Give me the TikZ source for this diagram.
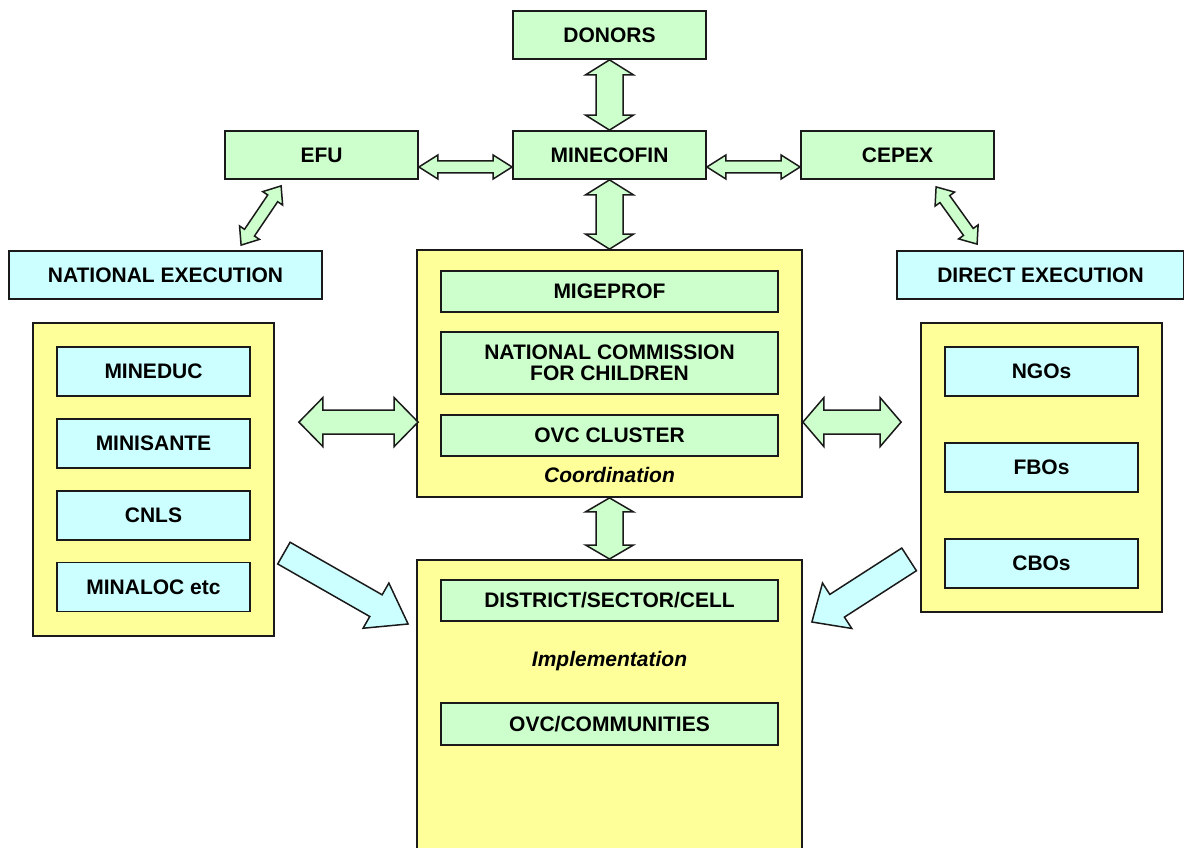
\documentclass[tikz,border=0pt]{standalone}
\usepackage{fontspec}
\setmainfont{Liberation Sans}
\usetikzlibrary{calc}
\definecolor{gfill}{HTML}{CCFFCC}
\definecolor{cfill}{HTML}{CCFFFF}
\definecolor{yfill}{HTML}{FFFF99}
\definecolor{edge}{HTML}{1A1A1A}
% double arrow: [fill]{A}{B}{head length}{head half}{shaft half}
\newcommand\dblarrow[6][gfill]{%
  \filldraw[arrline, fill=#1] (#2)
   -- ($(#2)!#4!(#3)!#5!90:(#3)$) -- ($(#2)!#4!(#3)!#6!90:(#3)$)
   -- ($(#3)!#4!(#2)!#6!-90:(#2)$) -- ($(#3)!#4!(#2)!#5!-90:(#2)$)
   -- (#3)
   -- ($(#3)!#4!(#2)!#5!90:(#2)$) -- ($(#3)!#4!(#2)!#6!90:(#2)$)
   -- ($(#2)!#4!(#3)!#6!-90:(#3)$) -- ($(#2)!#4!(#3)!#5!-90:(#3)$)
   -- cycle;}
% block arrow: [fill]{tail}{tip}{head length}{head half}{shaft half}
\newcommand\blockarrow[6][cfill]{%
  \filldraw[arrline, fill=#1] ($(#2)!#6!90:(#3)$)
   -- ($(#3)!#4!(#2)!#6!-90:(#2)$) -- ($(#3)!#4!(#2)!#5!-90:(#2)$)
   -- (#3)
   -- ($(#3)!#4!(#2)!#5!90:(#2)$) -- ($(#3)!#4!(#2)!#6!90:(#2)$)
   -- ($(#2)!#6!-90:(#3)$) -- cycle;}
\tikzset{
  arrline/.style={draw=edge, line width=1.5pt, line join=miter},
  basebox/.style={draw=edge, line width=1.8pt, rectangle, inner sep=0pt,
    align=center, font=\bfseries\fontsize{21}{21}\selectfont},
  gbox/.style={basebox, fill=gfill},
  cbox/.style={basebox, fill=cfill},
  ybox/.style={basebox, fill=yfill},
  lbl/.style={inner sep=0pt, font=\bfseries\itshape\fontsize{21}{21}\selectfont},
}
\begin{document}
\begin{tikzpicture}[x=1pt,y=-1pt]
\useasboundingbox[fill=white] (0,0) rectangle (1184,848);

% top row
\node[gbox, minimum width=193pt, minimum height=48pt] (donors) at (609.5,35) {DONORS};
\node[gbox, minimum width=193pt, minimum height=48pt] (minecofin) at (609.5,155) {MINECOFIN};
\node[gbox, minimum width=193pt, minimum height=48pt] (efu) at (321.5,155) {EFU};
\node[gbox, minimum width=193pt, minimum height=48pt] (cepex) at (897.5,155) {CEPEX};

% execution headers
\node[cbox, minimum width=313pt, minimum height=48pt] (natexec) at (165.5,275) {NATIONAL EXECUTION};
\node[cbox, minimum width=287pt, minimum height=48pt] (direxec) at (1040.5,275) {DIRECT EXECUTION};

% left container
\node[ybox, minimum width=241pt, minimum height=313pt] (leftc) at (153.5,479.5) {};
\node[cbox, minimum width=193pt, minimum height=49pt] (mineduc) at (153.5,371.5) {MINEDUC};
\node[cbox, minimum width=193pt, minimum height=49pt] (minisante) at (153.5,443.5) {MINISANTE};
\node[cbox, minimum width=193pt, minimum height=49pt] (cnls) at (153.5,515.5) {CNLS};
\node[cbox, minimum width=193pt, minimum height=49pt] (minaloc) at (153.5,587) {MINALOC etc};

% centre container (coordination)
\node[ybox, minimum width=385pt, minimum height=247pt] (coord) at (609.5,373.5) {};
\node[gbox, minimum width=337pt, minimum height=41pt] (migeprof) at (609.5,291.5) {MIGEPROF};
\node[gbox, minimum width=337pt, minimum height=62pt] (natcomm) at (609.5,363) {NATIONAL COMMISSION\\FOR CHILDREN};
\node[gbox, minimum width=337pt, minimum height=41pt] (ovccl) at (609.5,435.5) {OVC CLUSTER};
\node[lbl] (coordlbl) at (609.5,475) {Coordination};

% lower container (implementation)
\node[ybox, minimum width=385pt, minimum height=300pt, anchor=north] (impl) at (609.5,559) {};
\node[gbox, minimum width=337pt, minimum height=41pt] (district) at (609.5,600.5) {DISTRICT/SECTOR/CELL};
\node[lbl] (impllbl) at (609.5,661) {Implementation};
\node[gbox, minimum width=337pt, minimum height=42pt] (ovccom) at (609.5,724) {OVC/COMMUNITIES};

% right container
\node[ybox, minimum width=241pt, minimum height=289pt] (rightc) at (1041.5,467.5) {};
\node[cbox, minimum width=193pt, minimum height=49pt] (ngos) at (1041.5,371.5) {NGOs};
\node[cbox, minimum width=193pt, minimum height=49pt] (fbos) at (1041.5,467.5) {FBOs};
\node[cbox, minimum width=193pt, minimum height=49pt] (cbos) at (1041.5,563.5) {CBOs};

% connector end points
\coordinate (efuR) at ($(efu.east)+(0,12)$);
\coordinate (minL) at ($(minecofin.west)+(0,12)$);
\coordinate (minR) at ($(minecofin.east)+(0,12)$);
\coordinate (cepL) at ($(cepex.west)+(0,12)$);
\coordinate (efuB) at ($(efu.south west)+(57,6)$);
\coordinate (natT) at ($(natexec.north west)+(233,-5)$);
\coordinate (cepB) at ($(cepex.south west)+(136,7)$);
\coordinate (dirT) at ($(direxec.north west)+(81,-6)$);
\coordinate (leftA) at ($(leftc.north east)+(24,100)$);
\coordinate (coordL) at ($(coord.north west)+(2,173)$);
\coordinate (coordR) at ($(coord.north east)+(0,173)$);
\coordinate (rightA) at ($(rightc.north west)+(-19,100)$);
\coordinate (leftT) at ($(leftc.north east)+(9,231)$);
\coordinate (implL) at ($(impl.north west)+(-8,65)$);
\coordinate (rightT) at ($(rightc.south west)+(-11,-53.5)$);
\coordinate (implR) at ($(impl.north east)+(9,63)$);

% vertical double arrows
\dblarrow{donors.south}{minecofin.north}{15pt}{24pt}{13.5pt}
\dblarrow{minecofin.south}{coord.north}{15pt}{24pt}{13.5pt}
\dblarrow{coord.south}{impl.north}{14pt}{24pt}{13.5pt}
% small horizontal double arrows
\dblarrow{efuR}{minL}{19pt}{12pt}{6pt}
\dblarrow{minR}{cepL}{19pt}{12pt}{6pt}
% diagonal double arrows
\dblarrow{efuB}{natT}{15pt}{12pt}{6pt}
\dblarrow{cepB}{dirT}{15pt}{12pt}{6pt}
% big horizontal double arrows
\dblarrow{leftA}{coordL}{24pt}{24.5pt}{12pt}
\dblarrow{coordR}{rightA}{21pt}{24.5pt}{12pt}
% block arrows to implementation
\blockarrow{leftT}{implL}{37pt}{26pt}{12.5pt}
\blockarrow{rightT}{implR}{30pt}{27pt}{13.5pt}
\end{tikzpicture}
\end{document}
